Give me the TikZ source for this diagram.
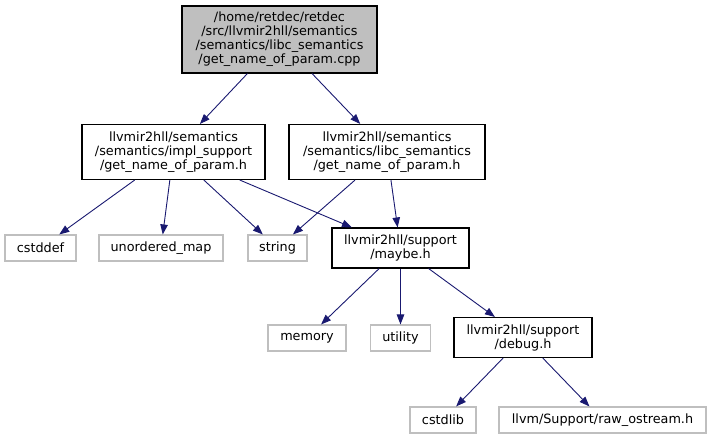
\documentclass[tikz,border=0pt]{standalone}
\usepackage{fontspec}
\setmainfont{DejaVu Sans}
\usetikzlibrary{arrows.meta}
\definecolor{Edge}{HTML}{191970}
\definecolor{Muted}{HTML}{BFBFBF}
\definecolor{Root}{HTML}{BFBFBF}
\begin{document}
\begin{tikzpicture}[
  x=1pt, y=-1pt,
  font=\fontsize{12.8}{14}\selectfont,
  file/.style={
    draw=black,
    line width=1.1pt,
    fill=white,
    align=center,
    inner sep=0pt
  },
  root/.style={
    file,
    fill=Root
  },
  sys/.style={
    draw=Muted,
    line width=1.1pt,
    fill=white,
    align=center,
    inner sep=0pt,
    minimum height=26
  },
  dep/.style={
    -{Triangle[length=10pt,width=7.5pt]},
    line width=0.9pt,
    draw=Edge
  }
]

\useasboundingbox (0,0) rectangle (712,439);

\node[root, minimum width=195, minimum height=67] (main) at (279.5,39.5)
  {/home/retdec/retdec\\/src/llvmir2hll/semantics\\/semantics/libc\_semantics\\/get\_name\_of\_param.cpp};

\node[file, minimum width=183, minimum height=55] (implparam) at (173.5,152)
  {llvmir2hll/semantics\\/semantics/impl\_support\\/get\_name\_of\_param.h};
\node[file, minimum width=196, minimum height=55] (libcparam) at (387,152)
  {llvmir2hll/semantics\\/semantics/libc\_semantics\\/get\_name\_of\_param.h};

\node[sys, minimum width=71] (cstddef) at (40.5,248) {cstddef};
\node[sys, minimum width=124] (umap) at (161,248) {unordered\_map};
\node[sys, minimum width=59] (string) at (277.5,248) {string};
\node[file, minimum width=137, minimum height=40] (maybe) at (400.5,248)
  {llvmir2hll/support\\/maybe.h};

\node[sys, minimum width=78] (memory) at (307,338) {memory};
\node[sys, minimum width=60] (utility) at (400.5,338) {utility};
\node[file, minimum width=138, minimum height=40] (debug) at (523,337.5)
  {llvmir2hll/support\\/debug.h};

\node[sys, minimum width=66] (cstdlib) at (443,420) {cstdlib};
\node[sys, minimum width=207] (rawos) at (602.5,420) {llvm/Support/raw\_ostream.h};

\draw[dep] (main) -- (implparam);
\draw[dep] (main) -- (libcparam);

\draw[dep] (implparam) -- (cstddef);
\draw[dep] (implparam) -- (umap);
\draw[dep] (implparam) -- (string);
\draw[dep] (implparam) -- (maybe);
\draw[dep] (libcparam) -- (string);
\draw[dep] (libcparam) -- (maybe);

\draw[dep] (maybe) -- (memory);
\draw[dep] (maybe) -- (utility);
\draw[dep] (maybe) -- (debug);

\draw[dep] (debug) -- (cstdlib);
\draw[dep] (debug) -- (rawos);

\end{tikzpicture}
\end{document}
